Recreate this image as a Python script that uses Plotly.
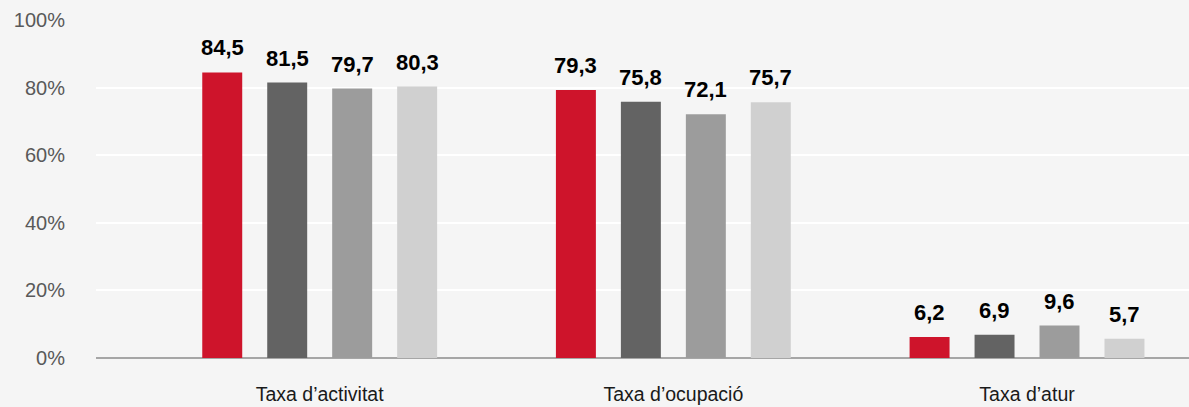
import plotly.graph_objects as go

categories = ["Taxa d’activitat", "Taxa d’ocupació", "Taxa d’atur"]
series_names = ["Sèrie 1", "Sèrie 2", "Sèrie 3", "Sèrie 4"]
values = [
    [84.5, 79.3, 6.2],
    [81.5, 75.8, 6.9],
    [79.7, 72.1, 9.6],
    [80.3, 75.7, 5.7],
]
colors = ["#CE142B", "#636363", "#9C9C9C", "#D0D0D0"]
y_ticks = [0, 20, 40, 60, 80, 100]
y_ticktext = ["0%", "20%", "40%", "60%", "80%", "100%"]

# layout geometry (in category units)
slot = 0.1837      # distance between bars in a group
bar_w = 0.113      # bar width
xpos = list(range(len(categories)))

fig = go.Figure()
for j, (name, vals, col) in enumerate(zip(series_names, values, colors)):
    off = (j - 1.5) * slot
    fig.add_trace(go.Bar(
        x=[p + off for p in xpos], y=vals, name=name,
        width=bar_w, marker=dict(color=col, line=dict(width=0)),
        hoverinfo="y",
    ))
    for p, v in zip(xpos, vals):
        fig.add_annotation(
            x=p + off, y=v, text="<b>" + f"{v:.1f}".replace(".", ",") + "</b>",
            showarrow=False, yanchor="bottom", yshift=10,
            font=dict(family="Liberation Sans, Arial", size=22, color="#000000"),
        )

fig.update_layout(
    width=1189, height=407,
    barmode="overlay",
    showlegend=False,
    paper_bgcolor="#F5F5F5",
    plot_bgcolor="#F5F5F5",
    margin=dict(l=96, r=0, t=20, b=49),
    font=dict(family="Liberation Sans, Arial", size=20, color="#595959"),
    xaxis=dict(
        tickmode="array", tickvals=xpos, ticktext=categories,
        range=[-0.6325, 2.458],
        showgrid=False, zeroline=False, showline=False, ticks="",
        tickfont=dict(size=19.5, color="#1A1A1A"),
        ticklabelstandoff=22,
    ),
    yaxis=dict(
        range=[0, 100], tickvals=y_ticks, ticktext=y_ticktext,
        showgrid=True, gridcolor="#FFFFFF", gridwidth=2,
        zeroline=True, zerolinecolor="#A6A6A6", zerolinewidth=2,
        showline=False, ticks="",
        tickfont=dict(size=20, color="#595959"),
        ticklabelstandoff=30,
    ),
)

fig.write_html("out.html", config={"displayModeBar": False},
               post_script="document.body.style.margin='0';")
